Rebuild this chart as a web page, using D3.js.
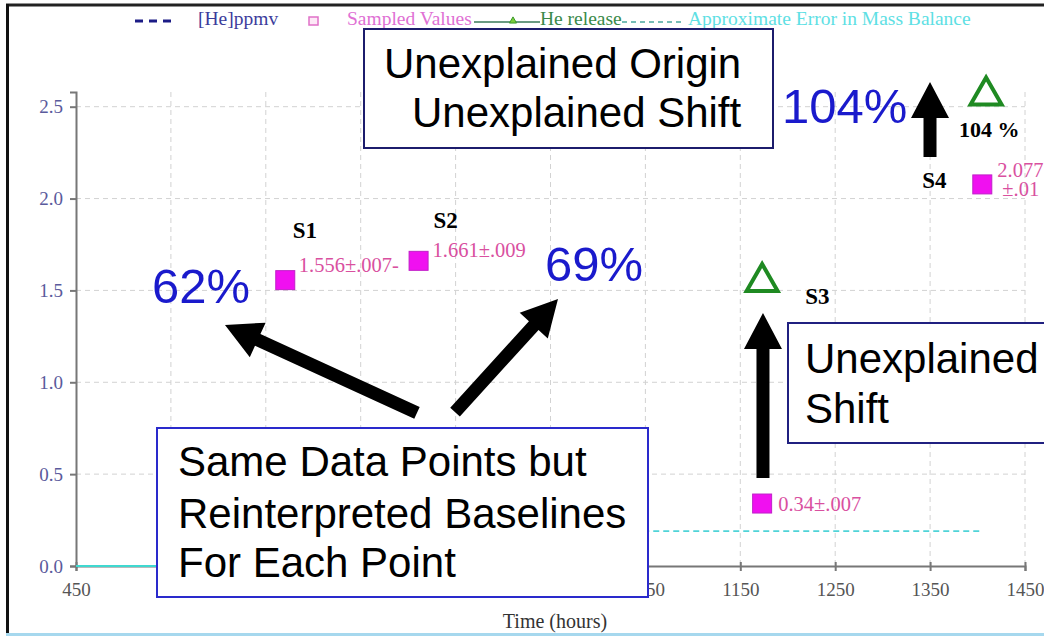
<!DOCTYPE html>
<html><head><meta charset="utf-8">
<script src="https://cdn.jsdelivr.net/npm/d3@7"></script>
<style>body{margin:0;background:#fff;overflow:hidden} svg{display:block}</style>
</head><body><svg id="c" width="1044" height="636"></svg>
<script>
// ---- data ----
const xTicks = [450,550,650,750,850,950,1050,1150,1250,1350,1450];
const yTicks = [0,0.5,1.0,1.5,2.0,2.5];
const sampleNames = ["S1","S2","S3","S4"];
const sampleHours = [670.5, 811, 1173, 1405];
const sampleValues = [1.556, 1.661, 0.34, 2.077];
const sampleLabels = ["1.556±.007-", "1.661±.009", "0.34±.007", "2.077"];
const releaseHours = [1173, 1409];
const releaseValues = [1.570, 2.586];
const massErrHours = [700, 1403];
const massErrValues = [0.19, 0.19];
const baseHours = [450, 600];
const baseValues = [0, 0];
const percentLabels = ["62%", "69%", "104%"];

// ---- layout ----
const svg = d3.select("#c");
const x = d3.scaleLinear().domain([450,1450]).range([76,1025]);
const y = d3.scaleLinear().domain([0,2.58]).range([566,92]);

// frame
svg.append("rect").attr("x",0).attr("y",0).attr("width",1044).attr("height",636).attr("fill","#fff");
svg.append("line").attr("x1",6).attr("x2",1044).attr("y1",5).attr("y2",5).attr("stroke","#222").attr("stroke-width",3);
svg.append("line").attr("x1",7.5).attr("x2",7.5).attr("y1",4).attr("y2",633).attr("stroke","#111").attr("stroke-width",3);
svg.append("line").attr("x1",6).attr("x2",1044).attr("y1",634.5).attr("y2",634.5).attr("stroke","#a6d8ee").attr("stroke-width",3);

// grid
const grid = svg.append("g").attr("stroke","#d2d2d2").attr("stroke-width",1).attr("stroke-dasharray","5,4");
grid.selectAll("line.v").data(xTicks.slice(1)).join("line")
  .attr("x1",d=>x(d)).attr("x2",d=>x(d)).attr("y1",y(2.58)).attr("y2",y(0));
grid.selectAll("line.h").data(yTicks.slice(1)).join("line")
  .attr("x1",x(450)).attr("x2",x(1450)).attr("y1",d=>y(d)).attr("y2",d=>y(d));

// axes
const xAxis = svg.append("g").attr("transform",`translate(0,${y(0)})`)
  .call(d3.axisBottom(x).tickValues(xTicks).tickFormat(d3.format("d")).tickSize(5).tickPadding(12));
xAxis.select(".domain").attr("stroke","#777").attr("stroke-width",2);
xAxis.selectAll(".tick line").attr("stroke","#777").attr("stroke-width",2).attr("y1",-4);
xAxis.selectAll(".tick text").attr("font-family","Liberation Serif").attr("font-size",19).attr("fill","#555");

const yAxis = svg.append("g").attr("transform",`translate(${x(450)},0)`)
  .call(d3.axisLeft(y).tickValues(yTicks).tickFormat(d3.format(".1f")).tickSize(6).tickPadding(7));
yAxis.select(".domain").attr("stroke","#777").attr("stroke-width",2);
yAxis.selectAll(".tick line").attr("stroke","#777").attr("stroke-width",2);
yAxis.selectAll(".tick text").attr("font-family","Liberation Serif").attr("font-size",19).attr("fill","#5a5a9c");

svg.append("text").attr("x",555).attr("y",628).attr("text-anchor","middle")
  .attr("font-family","Liberation Serif").attr("font-size",20).attr("fill","#333").text("Time (hours)");

// series lines
const line = d3.line().x(d=>x(d[0])).y(d=>y(d[1]));
svg.append("path").datum(baseHours.map((h,i)=>[h,baseValues[i]])).attr("d",line)
  .attr("fill","none").attr("stroke","#40d8d0").attr("stroke-width",2);
svg.append("path").datum(massErrHours.map((h,i)=>[h,massErrValues[i]])).attr("d",line)
  .attr("fill","none").attr("stroke","#50d4d8").attr("stroke-width",1.6).attr("stroke-dasharray","6,4");

// legend
const lg = svg.append("g").attr("font-family","Liberation Serif").attr("font-size",19.5);
lg.append("line").attr("x1",135).attr("x2",176).attr("y1",21).attr("y2",21)
  .attr("stroke","#1c1c86").attr("stroke-width",3).attr("stroke-dasharray","8,6");
lg.append("text").attr("x",198).attr("y",25).attr("fill","#3c3c9c").text("[He]ppmv");
lg.append("rect").attr("x",309).attr("y",17).attr("width",9).attr("height",8)
  .attr("fill","#fde8f6").attr("stroke","#e070c8").attr("stroke-width",1.5);
lg.append("text").attr("x",347).attr("y",25).attr("fill","#e070d4").text("Sampled Values");
lg.append("line").attr("x1",474).attr("x2",540).attr("y1",22).attr("y2",22).attr("stroke","#3a7a5a").attr("stroke-width",1.5);
lg.append("path").attr("d",d3.symbol().type(d3.symbolTriangle).size(22)()).attr("transform","translate(513,21)")
  .attr("fill","#7acb3a").attr("stroke","#3a9a2a");
lg.append("text").attr("x",540).attr("y",25).attr("fill","#3a8a4a").text("He release");
lg.append("line").attr("x1",622).attr("x2",682).attr("y1",22).attr("y2",22)
  .attr("stroke","#4aa8a0").attr("stroke-width",1.5).attr("stroke-dasharray","5,4");
lg.append("text").attr("x",688).attr("y",25).attr("fill","#5ee0e4").text("Approximate Error in Mass Balance");

// arrows
function arrowPts(x1,y1,x2,y2,sw,hw,hl){
  const dx=x2-x1, dy=y2-y1, L=Math.hypot(dx,dy), ux=dx/L, uy=dy/L, nx=-uy, ny=ux;
  const bx=x2-ux*hl, by=y2-uy*hl;
  return [[x1+nx*sw/2,y1+ny*sw/2],[bx+nx*sw/2,by+ny*sw/2],[bx+nx*hw/2,by+ny*hw/2],[x2,y2],
          [bx-nx*hw/2,by-ny*hw/2],[bx-nx*sw/2,by-ny*sw/2],[x1-nx*sw/2,y1-ny*sw/2]];
}
const arrows = [
  {from:[809.3,0.833], to:[607,1.312]},
  {from:[849.4,0.838], to:[957.9,1.453]},
  {from:[1173.9,0.479], to:[1173.9,1.377]},
  {from:[1349.9,2.226], to:[1349.9,2.635]}
];
svg.append("g").selectAll("path").data(arrows).join("path")
  .attr("d",a=>"M"+arrowPts(x(a.from[0]),y(a.from[1]),x(a.to[0]),y(a.to[1]),13,38,36).join("L")+"Z")
  .attr("fill","#000");

// sampled values (squares)
const samples = sampleHours.map((h,i)=>({h, v:sampleValues[i], name:sampleNames[i], lab:sampleLabels[i]}));
svg.append("g").selectAll("rect").data(samples).join("rect")
  .attr("x",d=>x(d.h)-9.5).attr("y",d=>y(d.v)-9.5).attr("width",19).attr("height",19)
  .attr("fill","#f010f0").attr("stroke","#c020c8").attr("stroke-width",1);

// value labels
const valOff = [[13.5,-8],[14,-4],[16,7],[15,-7]];
const vl = svg.append("g").attr("font-family","Liberation Serif").attr("font-size",20.5).attr("fill","#d9509f");
vl.selectAll("text").data(samples).join("text")
  .attr("x",(d,i)=>x(d.h)+valOff[i][0]).attr("y",(d,i)=>y(d.v)+valOff[i][1]).text(d=>d.lab);
vl.append("text").attr("x",x(sampleHours[3])+20).attr("y",y(sampleValues[3])+12).text("±.01");

// He release triangles
svg.append("g").selectAll("path").data(releaseHours.map((h,i)=>[h,releaseValues[i]])).join("path")
  .attr("d",d=>{const cx=x(d[0]), cy=y(d[1]), w=31, h=27; return `M${cx},${cy-h/2}L${cx+w/2},${cy+h/2}L${cx-w/2},${cy+h/2}Z`;})
  .attr("fill","none").attr("stroke","#1f8a22").attr("stroke-width",4).attr("stroke-linejoin","miter");

// S labels
const sOff = [[7.5,-42],[15,-33],[43,-200],[-60,4]];
const sl = svg.append("g").attr("font-family","Liberation Serif").attr("font-weight","bold").attr("font-size",23).attr("fill","#000");
sl.selectAll("text").data(samples).join("text")
  .attr("x",(d,i)=>x(d.h)+sOff[i][0]).attr("y",(d,i)=>y(d.v)+sOff[i][1]).text(d=>d.name);
sl.append("text").attr("x",x(releaseHours[1])-27).attr("y",y(releaseValues[1])+46).attr("font-size",22).text("104 %");

// text boxes
const boxes = [
  {x:364,y:29,w:409,h:119,stroke:"#1c1c6c",lines:[{t:"Unexplained Origin",x:384,y:78},{t:"Unexplained Shift",x:412,y:127}]},
  {x:788,y:323,w:290,h:120,stroke:"#202080",lines:[{t:"Unexplained",x:805,y:373},{t:"Shift",x:805,y:423}]},
  {x:157,y:428,w:491,h:169,stroke:"#2a2acc",lines:[{t:"Same Data Points but",x:178,y:476},{t:"Reinterpreted Baselines",x:178,y:528},{t:"For Each Point",x:178,y:577}]}
];
const bg = svg.append("g").selectAll("g").data(boxes).join("g");
bg.append("rect").attr("x",d=>d.x).attr("y",d=>d.y).attr("width",d=>d.w).attr("height",d=>d.h)
  .attr("fill","#fff").attr("stroke",d=>d.stroke).attr("stroke-width",2);
bg.selectAll("text").data(d=>d.lines).join("text").attr("x",d=>d.x).attr("y",d=>d.y)
  .attr("font-family","Liberation Sans").attr("font-size",42).attr("fill","#000").text(d=>d.t);

// percent labels
const pctPos = [[152,303],[545,281],[782,123]];
svg.append("g").selectAll("text").data(percentLabels).join("text")
  .attr("x",(d,i)=>pctPos[i][0]).attr("y",(d,i)=>pctPos[i][1])
  .attr("font-family","Liberation Sans").attr("font-size",49).attr("fill","#1a1acc").text(d=>d);
</script></body></html>
